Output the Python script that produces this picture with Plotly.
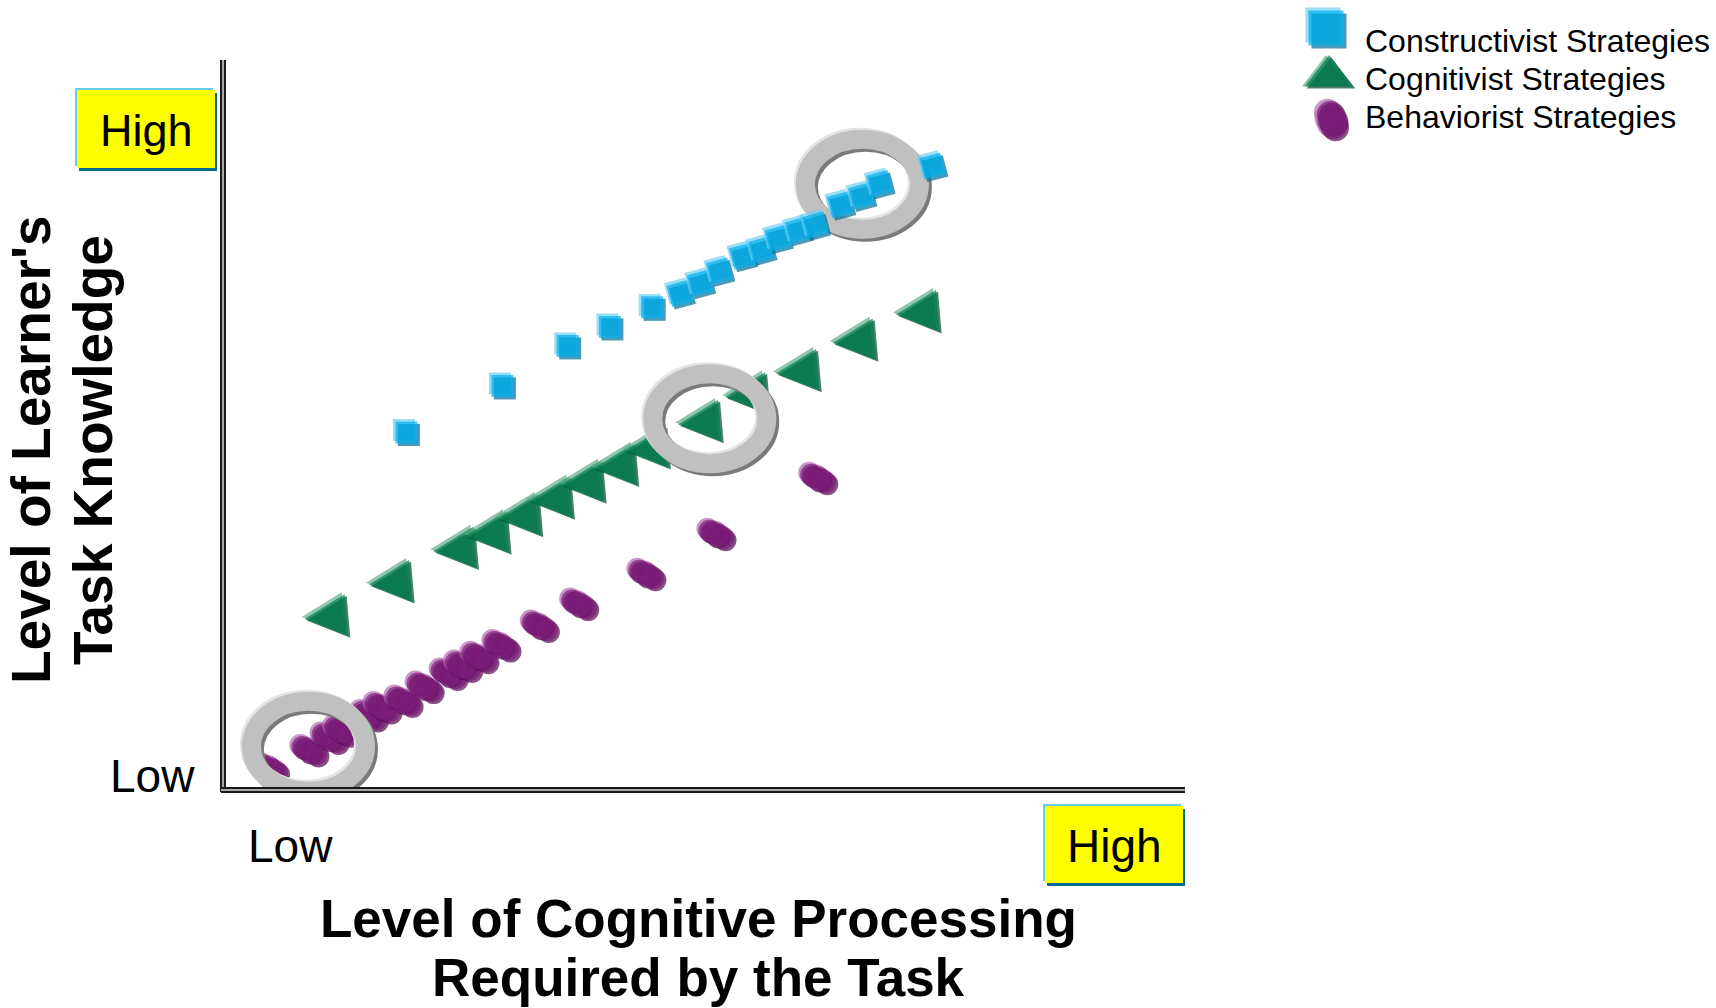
import math
import plotly.graph_objects as go

# ---------------- data (0..10 scales) ----------------
series_names = ["Constructivist Strategies", "Cognitivist Strategies", "Behaviorist Strategies"]

constructivist_x = [1.90, 2.90, 3.58, 4.02, 4.46, 4.75, 4.96, 5.16, 5.40, 5.60, 5.77, 5.98, 6.16, 6.42, 6.64, 6.83, 7.38]
constructivist_y = [4.91, 5.55, 6.10, 6.36, 6.63, 6.82, 6.96, 7.13, 7.33, 7.42, 7.58, 7.69, 7.76, 8.04, 8.16, 8.33, 8.57]

cognitivist_x = [0.84, 1.51, 2.18, 2.52, 2.85, 3.18, 3.51, 3.85, 4.18, 4.73, 5.22, 5.75, 6.34, 7.00]
cognitivist_y = [2.35, 2.82, 3.28, 3.49, 3.73, 3.97, 4.19, 4.42, 4.66, 5.02, 5.40, 5.72, 6.14, 6.53]

behaviorist_x = [0.48, 0.89, 1.10, 1.23, 1.51, 1.65, 1.87, 2.09, 2.34, 2.49, 2.66, 2.89, 3.29, 3.70, 4.40, 5.13, 6.19]
behaviorist_y = [0.29, 0.54, 0.71, 0.81, 1.02, 1.13, 1.22, 1.41, 1.59, 1.70, 1.82, 1.98, 2.25, 2.55, 2.96, 3.51, 4.28]

highlight_x = [0.88, 5.06, 6.65]
highlight_y = [0.60, 5.10, 8.32]

x_tick_labels = ["Low", "High"]
y_tick_labels = ["Low", "High"]
x_title_lines = ["Level of Cognitive Processing", "Required by the Task"]
y_title_lines = ["Level of Learner's", "Task Knowledge"]

# ---------------- layout geometry ----------------
W, H = 1716, 1008
PL, PR, PT, PB = 224, 1184, 62, 790          # plot area in pixels
XR, YR = (0, 10), (0, 10)
PXX = (XR[1] - XR[0]) / (PR - PL)            # data units per pixel
PXY = (YR[1] - YR[0]) / (PB - PT)
FONT = "Liberation Sans, Arial, sans-serif"


def px(x):
    return x / W


def py(y):
    return 1 - y / H


SQ = dict(hi="#6fd0f5", sh="#006d98", main="#00b0f0")
TR = dict(hi="#5fae8a", sh="#004a2e", main="#007f4f")
EL = dict(hi="#b56bb4", sh="#520a50", main="#7e1e7b")
RING = dict(hi="#e4e4e4", sh="#7a7a7a", main="#c0c0c0")


def bevel_points(xs, ys, parts, sx, sy):
    """parts: list of (dx_px, dy_px, color, size, angle) drawn per object in order."""
    X, Y, C, S, A = [], [], [], [], []
    for x, y in zip(xs, ys):
        for dx, dy, col, size, ang in parts:
            X.append(x + dx * sx)
            Y.append(y - dy * sy)
            C.append(col)
            S.append(size)
            A.append(ang)
    return X, Y, C, S, A


fig = go.Figure()

# ----- Constructivist: 3-D squares (later squares tilted) -----
Xs, Ys, Cs, Ss, As = [], [], [], [], []
for i, (x, y) in enumerate(zip(constructivist_x, constructivist_y)):
    ang = 0 if i < 5 else -15
    parts = [(-2.5, -2.5, SQ["hi"], 22, ang), (2.5, 2.5, SQ["sh"], 22, ang), (0, 0, SQ["main"], 22, ang)]
    a, b, c, d, e = bevel_points([x], [y], parts, PXX, PXY)
    Xs += a; Ys += b; Cs += c; Ss += d; As += e
fig.add_trace(go.Scatter(x=Xs, y=Ys, mode="markers", name=series_names[0], showlegend=False,
                         hoverinfo="skip", cliponaxis=False,
                         marker=dict(symbol="square", size=Ss, color=Cs, angle=As, line=dict(width=0))))

# ----- Cognitivist: 3-D triangles pointing left (point = tip) -----
TA = -5
parts = [(-3, -2, TR["hi"], 42, TA), (2, 1.5, TR["sh"], 42, TA), (0, 0, TR["main"], 42, TA)]
a, b, c, d, e = bevel_points(cognitivist_x, cognitivist_y, parts, PXX, PXY)
fig.add_trace(go.Scatter(x=a, y=b, mode="markers", name=series_names[1], showlegend=False,
                         hoverinfo="skip", cliponaxis=False,
                         marker=dict(symbol="arrow-left", size=d, color=c, angle=e, line=dict(width=0))))

# ----- Behaviorist: 3-D tilted ellipses (built from overlapping discs) -----
th = math.radians(28)
ux, uy = math.cos(th), math.sin(th)
parts = []
for dx, dy, col in [(-2, -2, EL["hi"]), (2, 2, EL["sh"]), (0, 0, EL["main"])]:
    for t, s in [(-8, 22), (0, 24), (8, 22)]:
        parts.append((dx + t * ux, dy + t * uy, col, s, 0))
a, b, c, d, e = bevel_points(behaviorist_x, behaviorist_y, parts, PXX, PXY)
fig.add_trace(go.Scatter(x=a, y=b, mode="markers", name=series_names[2], showlegend=False,
                         hoverinfo="skip", cliponaxis=False,
                         marker=dict(symbol="circle", size=d, color=c, line=dict(width=0))))

# ----- highlight rings -----
shapes = []
for k, (hx, hy) in enumerate(zip(highlight_x, highlight_y)):
    layer = "above" if k < 2 else "below"
    for dx, dy, col in [(-2, -2, RING["hi"]), (3, 3, RING["sh"]), (0, 0, RING["main"])]:
        shapes.append(dict(type="circle", xref="x", yref="y", xsizemode="pixel", ysizemode="pixel",
                           xanchor=hx + dx * PXX, yanchor=hy - dy * PXY,
                           x0=-57, x1=57, y0=-45, y1=45,
                           line=dict(color=col, width=19), fillcolor="rgba(0,0,0,0)", layer=layer))

# ----- axis lines (double, 3-D look) -----
for (x0, y0, x1, y1) in [(223, 60, 223, 792), (221, 790, 1185, 790)]:
    shapes.append(dict(type="line", xref="paper", yref="paper", x0=px(x0), y0=py(y0), x1=px(x1), y1=py(y1),
                       line=dict(color="#1a1a1a", width=6), layer="above"))
    shapes.append(dict(type="line", xref="paper", yref="paper", x0=px(x0), y0=py(y0), x1=px(x1), y1=py(y1),
                       line=dict(color="#a8a8a8", width=2), layer="above"))

# ----- yellow "High" boxes -----
for (bx0, by0, bx1, by1) in [(77, 90, 215, 168), (1045, 806, 1183, 883)]:
    shapes.append(dict(type="rect", xref="paper", yref="paper", x0=px(bx0 - 2), y0=py(by0 - 2),
                       x1=px(bx1 - 2), y1=py(by1 - 2), line=dict(width=0), fillcolor="#66ccee"))
    shapes.append(dict(type="rect", xref="paper", yref="paper", x0=px(bx0 + 2), y0=py(by0 + 3),
                       x1=px(bx1 + 2), y1=py(by1 + 3), line=dict(width=0), fillcolor="#006a92"))
    shapes.append(dict(type="rect", xref="paper", yref="paper", x0=px(bx0), y0=py(by0),
                       x1=px(bx1), y1=py(by1), line=dict(width=0), fillcolor="#ffff00"))

annotations = []


def text(t, x, y, size, bold=False, angle=0, xanchor="center"):
    annotations.append(dict(text=f"<b>{t}</b>" if bold else t, xref="paper", yref="paper",
                            x=px(x), y=py(y), xanchor=xanchor, yanchor="middle", showarrow=False,
                            textangle=angle, borderpad=0,
                            font=dict(family=FONT, size=size, color="#000000")))


# tick labels
text(y_tick_labels[1], 146, 130, 45)
text(y_tick_labels[0], 152, 776, 46)
text(x_tick_labels[0], 290, 846, 46)
text(x_tick_labels[1], 1114, 846, 46)
# axis titles
text(x_title_lines[0], 698, 918.5, 53, bold=True)
text(x_title_lines[1], 698, 977.5, 53, bold=True)
text(y_title_lines[0], 31, 450, 55, bold=True, angle=-90)
text(y_title_lines[1], 93, 450, 55, bold=True, angle=-90)
# legend texts
for name, ly in zip(series_names, [41, 79, 117]):
    text(name, 1364, ly, 32, xanchor="left")

# ----- manual legend symbols (pixel-like secondary axes) -----
LX0, LX1, LY0, LY1 = 1280, 1400, 0, 160
lg_sq = bevel_points([1326], [28], [(-3, -3, SQ["hi"], 35, 0), (3, 3, SQ["sh"], 35, 0), (0, 0, SQ["main"], 35, 0)], 1, -1)
lg_tr = bevel_points([1329], [76], [(-3, 0, TR["hi"], 42, 0), (2, 2, TR["sh"], 42, 0), (0, 0, TR["main"], 42, 0)], 1, -1)
thl = math.radians(75)
lux, luy = math.cos(thl), math.sin(thl)
lparts = []
for dx, dy, col in [(-3, -2, EL["hi"]), (2, 2, EL["sh"]), (0, 0, EL["main"])]:
    for t, s in [(-6, 27), (0, 29), (6, 27)]:
        lparts.append((dx + t * lux, dy + t * luy, col, s, 0))
lg_el = bevel_points([1332], [120], lparts, 1, -1)
for pts, sym in [(lg_sq, "square"), (lg_tr, "triangle-up"), (lg_el, "circle")]:
    fig.add_trace(go.Scatter(x=pts[0], y=pts[1], xaxis="x2", yaxis="y2", mode="markers", showlegend=False,
                             hoverinfo="skip", cliponaxis=False,
                             marker=dict(symbol=sym, size=pts[3], color=pts[2], line=dict(width=0))))

fig.update_layout(
    width=W, height=H, margin=dict(l=0, r=0, t=0, b=0),
    paper_bgcolor="white", plot_bgcolor="white", showlegend=False,
    xaxis=dict(domain=[px(PL), px(PR)], range=list(XR), visible=False, fixedrange=True),
    yaxis=dict(domain=[py(PB), py(PT)], range=list(YR), visible=False, fixedrange=True),
    xaxis2=dict(domain=[px(LX0), px(LX1)], range=[LX0, LX1], visible=False, anchor="y2"),
    yaxis2=dict(domain=[py(LY1), py(LY0)], range=[LY1, LY0], visible=False, anchor="x2"),
    shapes=shapes, annotations=annotations,
)

fig.write_html("out.html", config={"displayModeBar": False},
               post_script="document.body.style.margin='0px';document.body.style.overflow='hidden';")
